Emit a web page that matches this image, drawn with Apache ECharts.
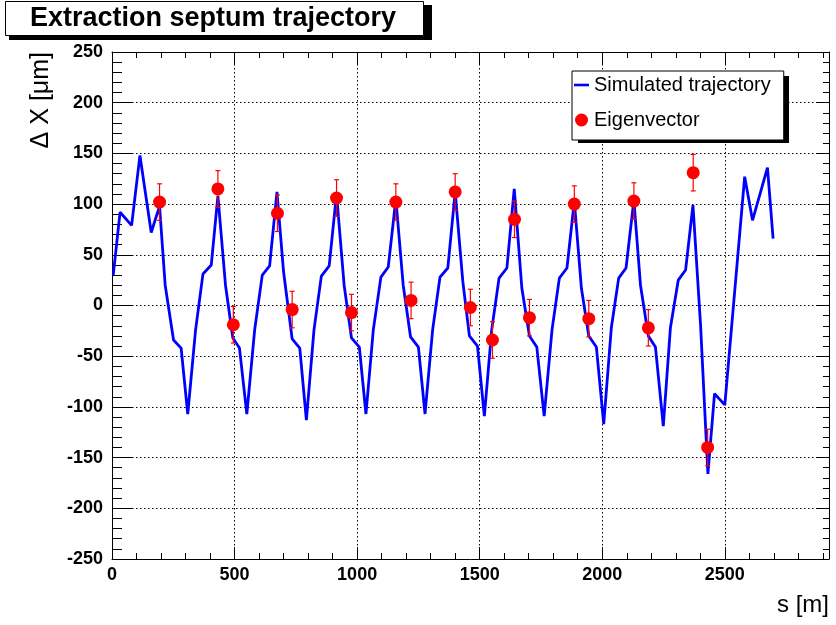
<!DOCTYPE html>
<html>
<head>
<meta charset="utf-8">
<script src="https://cdn.jsdelivr.net/npm/echarts/dist/echarts.min.js"></script>
<style>
  html, body { margin: 0; padding: 0; background: #fff; }
  #chart1 { width: 836px; height: 625px; }
</style>
</head>
<body>
<div id="chart1"></div>
<script>
// simulated trajectory along s [m], values in um
const trajS = [5, 33, 80, 114, 160, 194, 217, 251, 282, 309, 341, 371, 405, 432, 463, 493, 520, 550,
  582, 613, 643, 673, 700, 735, 766, 793, 824, 854, 886, 916, 947, 977, 1009, 1036, 1066, 1097,
  1127, 1158, 1188, 1218, 1250, 1277, 1308, 1338, 1370, 1400, 1431, 1458, 1491, 1519, 1549, 1579,
  1611, 1641, 1672, 1703, 1733, 1763, 1795, 1825, 1856, 1886, 1915, 1945, 1976, 2006, 2037, 2067,
  2097, 2129, 2156, 2188, 2217, 2249, 2278, 2310, 2340, 2370, 2401, 2431, 2458, 2500, 2581, 2613,
  2674, 2697];
const trajX = [30, 92, 79, 148, 72, 98, 20, -34, -42, -107, -24, 31, 40, 108, 20, -32, -42, -107,
  -24, 30, 39, 112, 33, -33, -42, -113, -24, 29, 39, 110, 20, -32, -41, -107, -24, 28,
  38, 105, 20, -31, -41, -107, -24, 28, 37, 112, 24, -30, -40, -109, -24, 27,
  37, 115, 17, -30, -41, -109, -24, 27, 37, 103, 17, -30, -41, -117, -22, 27,
  37, 104, 20, -30, -41, -119, -22, 25, 35, 99, -19, -166, -87, -98, 127, 84,
  136, 66];

// measured eigenvector points with errors
const eigS = [194, 432, 495, 675, 735, 916, 977, 1158, 1220, 1400, 1462, 1552, 1642, 1703, 1886, 1945, 2129, 2188, 2371, 2430];
const eigX = [102, 115, -19, 91, -4, 106, -7, 102, 5, 112, -2, -34, 85, -12, 100, -13, 103, -22, 131, -140];
const eigErr = [18, 18, 18, 18, 18, 18, 18, 18, 18, 18, 18, 18, 18, 18, 18, 18, 18, 18, 18, 18];

const xTicks = [0, 500, 1000, 1500, 2000, 2500];
const yTicks = [-250, -200, -150, -100, -50, 0, 50, 100, 150, 200, 250];

const FONT = 'Liberation Sans';

const xAxisBase = (position, interval, tickLen, extra) => Object.assign({
  type: 'value',
  position: position,
  min: xTicks[0],
  max: 2925,
  interval: interval,
  axisLine: { show: false, onZero: false },
  axisTick: { show: true, inside: true, length: tickLen, lineStyle: { color: '#000', width: 1 } },
  axisLabel: { show: false },
  splitLine: { show: false }
}, extra || {});

const yAxisBase = (position, majorLen, minorLen, extra) => Object.assign({
  type: 'value',
  position: position,
  min: yTicks[0],
  max: yTicks[yTicks.length - 1],
  interval: 50,
  axisLine: { show: true, onZero: false, lineStyle: { color: '#000', width: 1 } },
  axisTick: { show: true, inside: true, length: majorLen, lineStyle: { color: '#000', width: 1 } },
  minorTick: { show: true, splitNumber: 5, length: minorLen, lineStyle: { color: '#000', width: 1 } },
  axisLabel: { show: false },
  splitLine: { show: false }
}, extra || {});

const getOption = () => {
  const lineData = trajS.map((s, i) => [s, trajX[i]]);
  const dotData = eigS.map((s, i) => [s, eigX[i]]);
  const errData = eigS.map((s, i) => [s, eigX[i], eigErr[i]]);

  return {
    animation: false,
    backgroundColor: '#fff',
    title: {
      text: 'Extraction septum trajectory',
      left: 5,
      top: 1,
      padding: [4, 28, 4, 25],
      backgroundColor: '#fff',
      borderColor: '#000',
      borderWidth: 1,
      z: 6,
      textStyle: { fontFamily: FONT, fontWeight: 'bold', fontSize: 27, color: '#000' }
    },
    legend: {
      orient: 'vertical',
      left: 572,
      top: 71,
      padding: [4, 13, 10, 2],
      itemGap: 15,
      itemWidth: 15,
      itemHeight: 13,
      backgroundColor: '#fff',
      borderColor: '#000',
      borderWidth: 1,
      z: 6,
      textStyle: { fontFamily: FONT, fontSize: 20, color: '#000' },
      data: [
        { name: 'Simulated trajectory', icon: 'path://M0,0L15,0L15,2.6L0,2.6Z' },
        { name: 'Eigenvector', icon: 'circle' }
      ]
    },
    grid: { left: 112, right: 7, top: 52, bottom: 66 },
    xAxis: [
      xAxisBase('bottom', 500, 12, {
        axisLine: { show: true, onZero: false, lineStyle: { color: '#000', width: 1 } },
        axisLabel: {
          show: true, margin: 7, showMaxLabel: false,
          formatter: (v) => String(v),
          fontFamily: FONT, fontWeight: 'bold', fontSize: 18, color: '#000'
        },
        splitLine: { show: true, lineStyle: { color: '#000', width: 1, type: [1.5, 2.5] } }
      }),
      xAxisBase('bottom', 100, 6),
      xAxisBase('top', 500, 12, {
        axisLine: { show: true, onZero: false, lineStyle: { color: '#000', width: 1 } }
      }),
      xAxisBase('top', 100, 6)
    ],
    yAxis: [
      yAxisBase('left', 21, 10, {
        axisLabel: {
          show: true, margin: 9,
          formatter: (v) => String(v),
          fontFamily: FONT, fontWeight: 'bold', fontSize: 18, color: '#000'
        },
        splitLine: { show: true, lineStyle: { color: '#000', width: 1, type: [1.5, 2.5] } }
      }),
      yAxisBase('right', 13, 6)
    ],
    graphic: [
      // drop shadows behind the title and legend boxes
      { type: 'rect', z: 5, shape: { x: 9, y: 5, width: 423, height: 35 }, style: { fill: '#000' } },
      { type: 'rect', z: 5, shape: { x: 578, y: 76, width: 211, height: 67 }, style: { fill: '#000' } },
      {
        type: 'text',
        x: 41,
        y: 52,
        rotation: Math.PI / 2,
        style: {
          text: '\u0394 X [\u03bcm]',
          font: '25px "Liberation Sans"',
          fill: '#000',
          align: 'right',
          verticalAlign: 'middle'
        }
      },
      {
        type: 'text',
        x: 829,
        y: 605,
        style: {
          text: 's [m]',
          font: '24px "Liberation Sans"',
          fill: '#000',
          align: 'right',
          verticalAlign: 'middle'
        }
      }
    ],
    series: [
      {
        name: 'Simulated trajectory',
        type: 'line',
        xAxisIndex: 0,
        yAxisIndex: 0,
        data: lineData,
        symbol: 'none',
        z: 2,
        lineStyle: { color: '#0000ff', width: 2.8 },
        itemStyle: { color: '#0000ff' }
      },
      {
        name: 'errors',
        type: 'custom',
        xAxisIndex: 0,
        yAxisIndex: 0,
        data: errData,
        encode: { x: 0, y: 1 },
        z: 3,
        renderItem: (params, api) => {
          const s = api.value(0);
          const v = api.value(1);
          const e = api.value(2);
          const top = api.coord([s, v + e]);
          const bot = api.coord([s, v - e]);
          const st = { stroke: '#ff0000', lineWidth: 1.2 };
          return {
            type: 'group',
            children: [
              { type: 'line', shape: { x1: top[0], y1: top[1], x2: bot[0], y2: bot[1] }, style: st },
              { type: 'line', shape: { x1: top[0] - 2.5, y1: top[1], x2: top[0] + 2.5, y2: top[1] }, style: st },
              { type: 'line', shape: { x1: bot[0] - 2.5, y1: bot[1], x2: bot[0] + 2.5, y2: bot[1] }, style: st }
            ]
          };
        }
      },
      {
        name: 'Eigenvector',
        type: 'scatter',
        xAxisIndex: 0,
        yAxisIndex: 0,
        data: dotData,
        symbol: 'circle',
        symbolSize: 13,
        z: 4,
        itemStyle: { color: '#ff0000', opacity: 1 }
      }
    ]
  };
};

const initCharts = () => {
  const chart1 = echarts.init(document.getElementById('chart1'));
  chart1.setOption(getOption());
};

window.addEventListener('load', () => {
  initCharts();
});
</script>
</body>
</html>
